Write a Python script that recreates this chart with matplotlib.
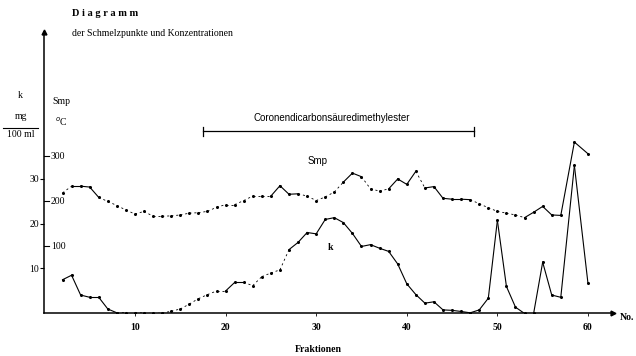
import matplotlib
matplotlib.use('Agg')
import matplotlib.pyplot as plt

# data ----------------------------------------------------------------
fractions = [2, 3, 4, 5, 6, 7, 8, 9, 10, 11, 12, 13, 14, 15, 16, 17, 18, 19, 20,
             21, 22, 23, 24, 25, 26, 27, 28, 29, 30, 31, 32, 33, 34, 35, 36, 37,
             38, 39, 40, 41, 42, 43, 44, 45, 46, 47, 48, 49, 50, 51, 52, 53, 54,
             55, 56, 57, 58.5, 60]

# concentration k (mg / 100 ml)
k_vals = [7.5, 8.5, 4.1, 3.6, 3.6, 1.0, 0.15, 0.2, 0.2, 0.1, 0.0, 0.1, 0.5, 1.0,
          2.1, 3.3, 4.2, 5.0, 5.0, 6.9, 6.9, 6.2, 8.2, 9.0, 9.7, 14.2, 15.8, 18.0,
          17.7, 20.9, 21.3, 20.2, 17.8, 14.9, 15.3, 14.5, 13.8, 11.0, 6.6, 4.2,
          2.3, 2.6, 0.8, 0.7, 0.45, 0.15, 0.8, 3.4, 20.7, 6.0, 1.4, 0.0, 0.0,
          11.4, 4.1, 3.6, 32.9, 6.7]

# melting point Smp (deg C)
smp_vals = [218, 233, 233, 231, 208, 199, 190, 180, 171, 177, 166, 166, 167, 169,
            173, 174, 177, 186, 192, 192, 201, 211, 211, 211, 234, 215, 216, 211,
            201, 209, 220, 242, 262, 254, 227, 222, 227, 249, 237, 266, 229, 232,
            206, 204, 204, 203, 194, 185, 177, 173, 169, 163, 175, 188, 169, 168,
            331, 305]

x_ticks = [10, 20, 30, 40, 50, 60]
k_ticks = [10, 20, 30]
smp_ticks = [100, 200, 300]
bracket = (17.5, 47.4)   # range of Coronendicarbonsaeuredimethylester


def smp_to_k(t):
    # Smp scale sits on the same axis: 100 deg C per 10 k-units, offset 5
    return t / 10.0 + 5


smp_y = [smp_to_k(t) for t in smp_vals]

plt.rcParams['font.family'] = ['Liberation Serif', 'DejaVu Serif']

fig = plt.figure(figsize=(6.36, 3.56), dpi=100)
ax = fig.add_axes([0.0698, 0.1194, 0.894, 0.7907])
ax.set_xlim(0, 62.76)
ax.set_ylim(0, 62.56)
for s in ['top', 'right']:
    ax.spines[s].set_visible(False)
for s in ['left', 'bottom']:
    ax.spines[s].set_linewidth(1.1)

# arrow heads on the axes
ax.plot(1, 0, '>k', ms=3.5, transform=ax.transAxes, clip_on=False)
ax.plot(0, 1, '^k', ms=3.5, transform=ax.transAxes, clip_on=False)

ax.set_xticks(x_ticks)
ax.set_xticklabels([str(t) for t in x_ticks], fontsize=7, fontweight='bold')
ax.tick_params(axis='x', length=2, width=0.6, pad=5)
ax.set_yticks(k_ticks)
ax.set_yticklabels([str(t) for t in k_ticks], fontsize=7)
ax.tick_params(axis='y', length=3, width=0.8, pad=1)

# Smp ticks on the right side of the same axis
for t in smp_ticks:
    ax.plot([0, 0.5], [smp_to_k(t)] * 2, color='k', lw=0.8, clip_on=False)
    ax.text(0.7, smp_to_k(t), str(t), fontsize=7, va='center', ha='left')


def draw_series(xs, ys, solid_runs):
    # solid segments where the original is drawn through, dashed elsewhere
    for i in range(len(xs) - 1):
        solid = any(a <= xs[i] and xs[i + 1] <= b for a, b in solid_runs)
        ax.plot(xs[i:i + 2], ys[i:i + 2], color='k',
                lw=0.8 if solid else 0.6,
                ls='-' if solid else (0, (2.5, 3.5)))
    ax.plot(xs, ys, 'o', color='k', ms=1.2)


draw_series(fractions, k_vals, [(2, 8), (20, 22), (27, 60)])
draw_series(fractions, smp_y, [(3, 6), (25, 28), (33, 35), (38, 41), (42, 47), (53, 60)])

# bracket for the ester fractions
ax.plot(bracket, [40.5, 40.5], color='k', lw=0.9)
for bx in bracket:
    ax.plot([bx, bx], [39.5, 41.5], color='k', lw=0.9)
ax.text(31.7, 42.4, 'Coronendicarbonsäuredimethylester', fontsize=7,
        family=['Liberation Sans', 'DejaVu Sans'], ha='center', va='bottom')

ax.text(30.2, 34.0, 'Smp', fontsize=7, ha='center', va='center',
        family=['Liberation Sans', 'DejaVu Sans'])
ax.text(31.6, 14.6, 'k', fontsize=7, ha='center', va='center', fontweight='bold')

# labels outside the axes
fig.text(72 / 636, 1 - 14 / 356, 'D i a g r a m m', fontsize=7.5, va='center',
         fontweight='bold')
fig.text(72 / 636, 1 - 33 / 356, 'der Schmelzpunkte und Konzentrationen',
         fontsize=7, va='center')
fig.text(20 / 636, 1 - 95 / 356, 'k', fontsize=7, ha='center', va='center')
fig.text(21 / 636, 1 - 121.5 / 356, 'mg', fontsize=7, ha='center', va='bottom')
fig.add_artist(plt.Line2D([3 / 636, 38 / 636], [1 - 127.5 / 356] * 2, color='k', lw=0.8))
fig.text(21 / 636, 1 - 130 / 356, '100 ml', fontsize=7, ha='center', va='top')
fig.text(52 / 636, 1 - 101 / 356, 'Smp', fontsize=7, ha='left', va='center')
fig.text(55 / 636, 1 - 122 / 356, '$^{o}$C', fontsize=7, ha='left', va='center')
fig.text(620 / 636, 1 - 318 / 356, 'No.', fontsize=7, ha='left', va='center',
         fontweight='bold')
fig.text(318 / 636, 1 - 350 / 356, 'Fraktionen', fontsize=7, ha='center',
         va='center', fontweight='bold')

fig.savefig('out.png', dpi=100)
